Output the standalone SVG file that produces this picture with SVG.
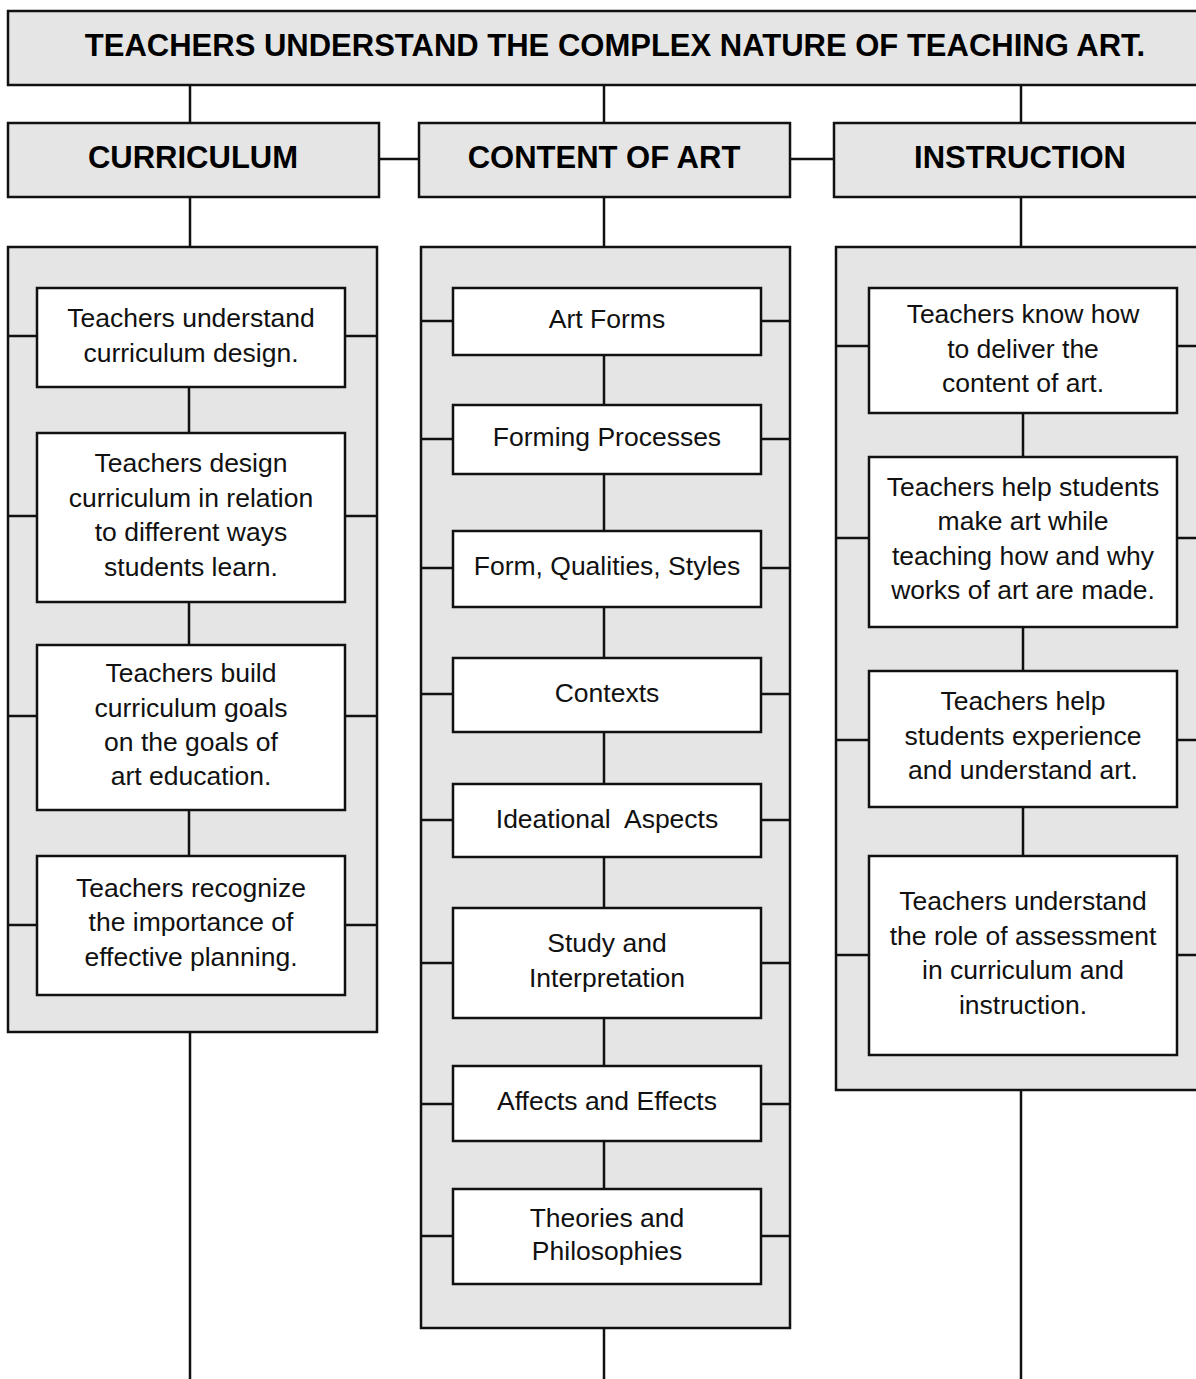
<svg xmlns="http://www.w3.org/2000/svg" width="1196" height="1379" viewBox="0 0 1196 1379">
<style>
.gray{fill:#e5e5e5;stroke:#111;stroke-width:2.5}
.box{fill:#fff;stroke:#111;stroke-width:2.5}
.ln{stroke:#111;stroke-width:2.5;fill:none}
.hd{font-family:"Liberation Sans",Arial,sans-serif;font-weight:bold;font-size:31px;fill:#000;text-anchor:middle}
.tx{font-family:"Liberation Sans",Arial,sans-serif;font-size:26.5px;fill:#111;text-anchor:middle}
</style>
<rect width="1196" height="1379" fill="#fff"/>
<g id="title"><rect class="gray" x="8" y="11" width="1195" height="74"/><text class="hd" x="615" y="56">TEACHERS UNDERSTAND THE COMPLEX NATURE OF TEACHING ART.</text></g>
<g id="h-curriculum"><rect class="gray" x="8" y="123" width="371" height="74"/><text class="hd" x="193" y="168">CURRICULUM</text></g>
<g id="h-content"><rect class="gray" x="419" y="123" width="371" height="74"/><text class="hd" x="604" y="168">CONTENT OF ART</text></g>
<g id="h-instruction"><rect class="gray" x="834" y="123" width="370" height="74"/><text class="hd" x="1020" y="168">INSTRUCTION</text></g>
<g id="p-curriculum"><rect class="gray" x="8" y="247" width="369" height="785"/></g>
<g id="p-content"><rect class="gray" x="421" y="247" width="369" height="1081"/></g>
<g id="p-instruction"><rect class="gray" x="836" y="247" width="368" height="843"/></g>
<g id="connectors" class="ln">
<path d="M190 85V123M604 85V123M1021 85V123M379 159H419M790 159H834M190 197V247M604 197V247M1021 197V247M190 1032V1379M604 1328V1379M1021 1090V1379"/>
<path d="M189 387V433M189 602V645M189 810V856M8 336H37M345 336H377M8 516H37M345 516H377M8 716H37M345 716H377M8 925H37M345 925H377"/>
<path d="M604 355V405M604 474V531M604 607V658M604 732V784M604 857V908M604 1018V1066M604 1141V1189M421 321H453M761 321H790M421 439H453M761 439H790M421 568H453M761 568H790M421 694H453M761 694H790M421 820H453M761 820H790M421 963H453M761 963H790M421 1104H453M761 1104H790M421 1236H453M761 1236H790"/>
<path d="M1023 413V457M1023 627V671M1023 807V856M836 346H869M1177 346H1204M836 538H869M1177 538H1204M836 740H869M1177 740H1204M836 955H869M1177 955H1204"/>
</g>
<g id="c1"><rect class="box" x="37" y="288" width="308" height="99"/><text class="tx" x="191" y="327">Teachers understand</text><text class="tx" x="191" y="362">curriculum design.</text></g>
<g id="c2"><rect class="box" x="37" y="433" width="308" height="169"/><text class="tx" x="191" y="472">Teachers design</text><text class="tx" x="191" y="507">curriculum in relation</text><text class="tx" x="191" y="541">to different ways</text><text class="tx" x="191" y="576">students learn.</text></g>
<g id="c3"><rect class="box" x="37" y="645" width="308" height="165"/><text class="tx" x="191" y="682">Teachers build</text><text class="tx" x="191" y="717">curriculum goals</text><text class="tx" x="191" y="751">on the goals of</text><text class="tx" x="191" y="785">art education.</text></g>
<g id="c4"><rect class="box" x="37" y="856" width="308" height="139"/><text class="tx" x="191" y="897">Teachers recognize</text><text class="tx" x="191" y="931">the importance of</text><text class="tx" x="191" y="966">effective planning.</text></g>
<g id="a1"><rect class="box" x="453" y="288" width="308" height="67"/><text class="tx" x="607" y="328">Art Forms</text></g>
<g id="a2"><rect class="box" x="453" y="405" width="308" height="69"/><text class="tx" x="607" y="446">Forming Processes</text></g>
<g id="a3"><rect class="box" x="453" y="531" width="308" height="76"/><text class="tx" x="607" y="575">Form, Qualities, Styles</text></g>
<g id="a4"><rect class="box" x="453" y="658" width="308" height="74"/><text class="tx" x="607" y="702">Contexts</text></g>
<g id="a5"><rect class="box" x="453" y="784" width="308" height="73"/><text class="tx" x="607" y="828" xml:space="preserve">Ideational  Aspects</text></g>
<g id="a6"><rect class="box" x="453" y="908" width="308" height="110"/><text class="tx" x="607" y="952">Study and</text><text class="tx" x="607" y="987">Interpretation</text></g>
<g id="a7"><rect class="box" x="453" y="1066" width="308" height="75"/><text class="tx" x="607" y="1110">Affects and Effects</text></g>
<g id="a8"><rect class="box" x="453" y="1189" width="308" height="95"/><text class="tx" x="607" y="1227">Theories and</text><text class="tx" x="607" y="1260">Philosophies</text></g>
<g id="i1"><rect class="box" x="869" y="288" width="308" height="125"/><text class="tx" x="1023" y="323">Teachers know how</text><text class="tx" x="1023" y="358">to deliver the</text><text class="tx" x="1023" y="392">content of art.</text></g>
<g id="i2"><rect class="box" x="869" y="457" width="308" height="170"/><text class="tx" x="1023" y="496">Teachers help students</text><text class="tx" x="1023" y="530">make art while</text><text class="tx" x="1023" y="565">teaching how and why</text><text class="tx" x="1023" y="599">works of art are made.</text></g>
<g id="i3"><rect class="box" x="869" y="671" width="308" height="136"/><text class="tx" x="1023" y="710">Teachers help</text><text class="tx" x="1023" y="745">students experience</text><text class="tx" x="1023" y="779">and understand art.</text></g>
<g id="i4"><rect class="box" x="869" y="856" width="308" height="199"/><text class="tx" x="1023" y="910">Teachers understand</text><text class="tx" x="1023" y="945">the role of assessment</text><text class="tx" x="1023" y="979">in curriculum and</text><text class="tx" x="1023" y="1014">instruction.</text></g>
</svg>
